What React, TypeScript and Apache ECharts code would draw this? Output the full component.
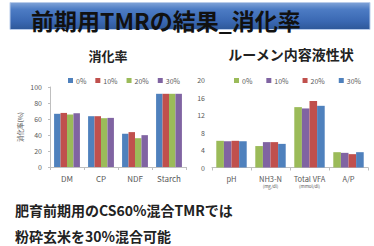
import React, { useEffect, useRef } from "react";
import * as echarts from "echarts";

const leftCategories = ["DM", "CP", "NDF", "Starch"];
const leftSeriesNames = ["0%", "10%", "20%", "30%"];
const leftColors = ["#4F81BD", "#C0504D", "#9BBB59", "#8064A2"];
const leftValues = [
  [66.5, 63.5, 41.5, 91.5],
  [67.6, 63.5, 43.6, 91.5],
  [65.6, 61.0, 36.0, 91.5],
  [67.2, 61.4, 39.8, 91.5],
];
const leftTicks = { min: 0, max: 100, interval: 20 };

const rightCategories = ["pH", "NH3-N\n{s|(mg/dl)}", "Total VFA\n{s|(mmol/dl)}", "A/P"];
const rightSeriesNames = ["0%", "10%", "20%", "30%"];
const rightColors = ["#9BBB59", "#8064A2", "#C0504D", "#4F81BD"];
const rightValues = [
  [6.1, 4.9, 13.8, 3.5],
  [6.0, 5.8, 13.5, 3.35],
  [6.1, 5.8, 15.2, 3.05],
  [6.0, 5.4, 14.1, 3.5],
];
const rightTicks = { min: 0, max: 20, interval: 4 };

const mainTitle = "前期用TMRの結果_消化率";
const leftTitle = "消化率";
const rightTitle = "ルーメン内容液性状";
const leftYName = "消化率(%)";
const noteLines = ["肥育前期用のCS60%混合TMRでは", "粉砕玄米を30%混合可能"];

const FONT = '"Noto Sans CJK JP", "Noto Sans", sans-serif';
const LABEL = "#595959";
const AXIS = "#BFBFBF";

export default function App() {
  const ref = useRef<HTMLDivElement>(null);
  useEffect(() => {
    if (!ref.current) return;
    const chart = echarts.init(ref.current, null, { renderer: "svg" });
    const axisCommon = {
      axisLine: { show: true, lineStyle: { color: AXIS, width: 1 } },
      axisTick: { show: true, length: 3, lineStyle: { color: AXIS } },
      splitLine: { show: false },
    };
    const series: any[] = [];
    leftSeriesNames.forEach((n, i) => {
      series.push({
        type: "bar",
        name: n,
        xAxisIndex: 0,
        yAxisIndex: 0,
        data: leftValues[i],
        itemStyle: { color: leftColors[i] },
        barGap: "0%",
        barCategoryGap: "24%",
      });
    });
    rightSeriesNames.forEach((n, i) => {
      series.push({
        type: "bar",
        name: n,
        xAxisIndex: 1,
        yAxisIndex: 1,
        data: rightValues[i],
        itemStyle: { color: rightColors[i] },
        barGap: "0%",
        barCategoryGap: "22%",
      });
    });
    chart.setOption({
      animation: false,
      backgroundColor: "#ffffff",
      textStyle: { fontFamily: FONT },
      grid: [
        { left: 50, top: 87, width: 136, height: 80, containLabel: false },
        { left: 212, top: 80, width: 156, height: 87.5, containLabel: false },
      ],
      legend: [
        {
          left: 63,
          top: 72,
          itemWidth: 5,
          itemHeight: 5,
          itemGap: 9,
          icon: "rect",
          textStyle: { fontSize: 7, color: LABEL, fontFamily: FONT, padding: [0, 0, 0, -2] },
          data: leftSeriesNames.map((n, i) => ({ name: n, itemStyle: { color: leftColors[i] } })),
        },
        {
          left: 229,
          top: 72,
          itemWidth: 5,
          itemHeight: 5,
          itemGap: 14,
          icon: "rect",
          textStyle: { fontSize: 7, color: LABEL, fontFamily: FONT, padding: [0, 0, 0, -2] },
          data: rightSeriesNames.map((n, i) => ({ name: n, itemStyle: { color: rightColors[i] } })),
        },
      ],
      xAxis: [
        {
          type: "category",
          gridIndex: 0,
          data: leftCategories,
          ...axisCommon,
          axisLabel: { interval: 0, fontSize: 8, color: LABEL, margin: 7, fontFamily: FONT },
        },
        {
          type: "category",
          gridIndex: 1,
          data: rightCategories,
          ...axisCommon,
          axisLabel: {
            interval: 0,
            fontSize: 7.5,
            color: LABEL,
            margin: 7,
            fontFamily: FONT,
            lineHeight: 8,
            rich: { s: { fontSize: 4.5, color: LABEL, lineHeight: 6 } },
          },
        },
      ],
      yAxis: [
        {
          type: "value",
          gridIndex: 0,
          ...leftTicks,
          ...axisCommon,
          axisTick: { show: true, length: 2, lineStyle: { color: AXIS } },
          axisLabel: { fontSize: 7, color: LABEL, margin: 8, fontFamily: FONT },
          name: leftYName,
          nameLocation: "middle",
          nameRotate: 90,
          nameGap: 27,
          nameTextStyle: { fontSize: 6.5, color: LABEL, fontFamily: FONT },
        },
        {
          type: "value",
          gridIndex: 1,
          ...rightTicks,
          ...axisCommon,
          axisLine: { show: false },
          axisTick: { show: false },
          axisLabel: { fontSize: 7, color: LABEL, margin: 7, fontFamily: FONT },
        },
      ],
      series,
      graphic: [
        {
          type: "rect",
          shape: { x: 10, y: 2.5, width: 360, height: 27 },
          style: {
            fill: new echarts.graphic.LinearGradient(0, 0, 0, 1, [
              { offset: 0, color: "#7FA3D8" },
              { offset: 0.25, color: "#4D7CC4" },
              { offset: 0.7, color: "#3A68B2" },
              { offset: 1, color: "#2E5899" },
            ]),
            stroke: "#B9CCEA",
            lineWidth: 1,
          },
          z: 1,
        },
        {
          type: "text",
          x: 31,
          y: 20,
          style: {
            text: mainTitle,
            fontSize: 23,
            fontWeight: "bold",
            fontFamily: FONT,
            fill: "#111111",
            verticalAlign: "middle",
          },
          z: 2,
        },
        {
          type: "text",
          x: 108,
          y: 55,
          style: {
            text: leftTitle,
            fontSize: 13,
            fontWeight: "bold",
            fontFamily: FONT,
            fill: "#222222",
            align: "center",
            verticalAlign: "middle",
          },
        },
        {
          type: "text",
          x: 291,
          y: 54,
          style: {
            text: rightTitle,
            fontSize: 14,
            fontWeight: "bold",
            fontFamily: FONT,
            fill: "#222222",
            align: "center",
            verticalAlign: "middle",
          },
        },
        {
          type: "text",
          x: 15,
          y: 210,
          style: {
            text: noteLines[0],
            fontSize: 14,
            fontWeight: "bold",
            fontFamily: FONT,
            fill: "#222222",
            verticalAlign: "middle",
          },
        },
        {
          type: "text",
          x: 15,
          y: 236,
          style: {
            text: noteLines[1],
            fontSize: 14,
            fontWeight: "bold",
            fontFamily: FONT,
            fill: "#222222",
            verticalAlign: "middle",
          },
        },
      ],
    });
    return () => chart.dispose();
  }, []);
  return (
    <div
      ref={ref}
      style={{ position: "fixed", left: 0, top: 0, width: 374, height: 246, background: "#fff" }}
    />
  );
}
